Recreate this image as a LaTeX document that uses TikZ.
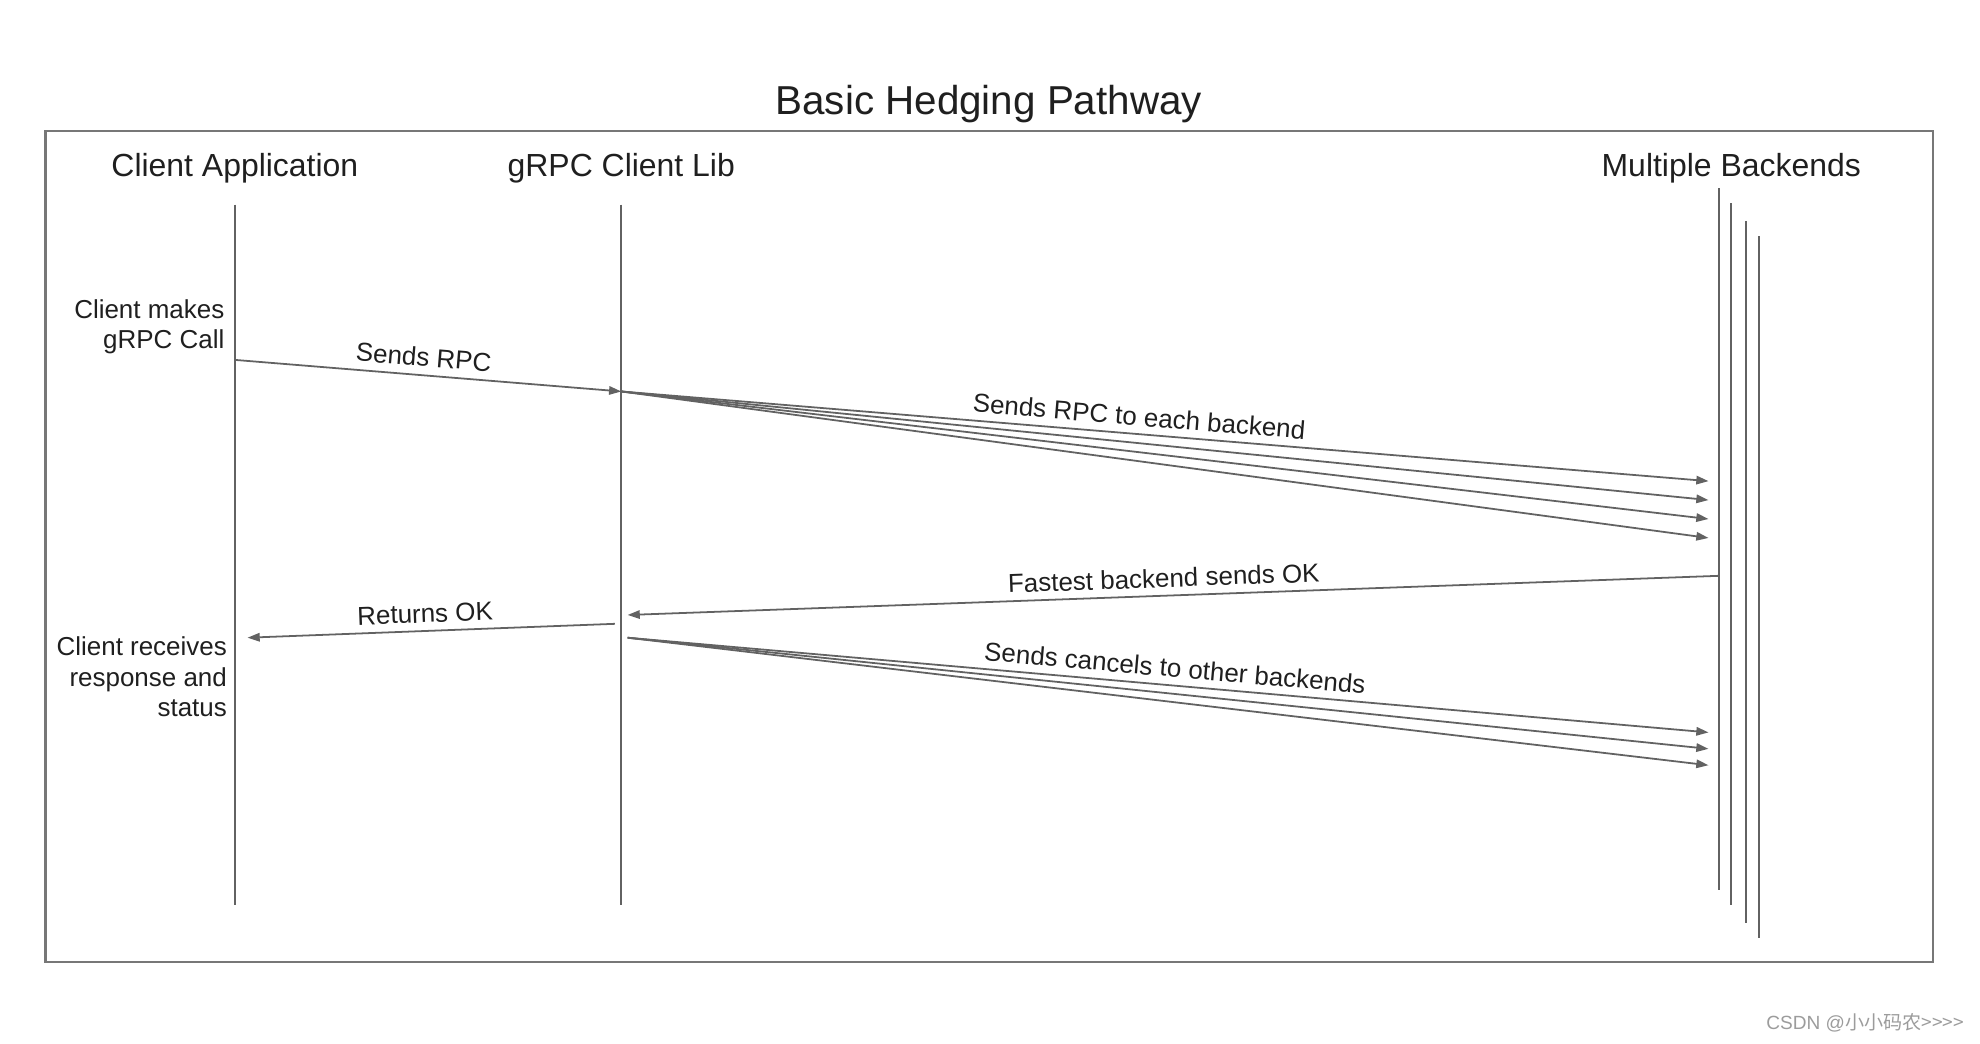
\documentclass[tikz,border=0pt]{standalone}
\usepackage{fontspec}
\setmainfont{Liberation Sans}
\newfontfamily\cjk{Noto Sans CJK SC}
\usepackage{xcolor}
\usetikzlibrary{arrows.meta,positioning}
\definecolor{ink}{HTML}{1F1F1F}
\definecolor{wire}{HTML}{626262}
\definecolor{rim}{HTML}{777777}
\definecolor{wmark}{HTML}{9C9C9C}
\tikzset{
  box/.style={draw=rim, line width=1pt},
  life/.style={draw=wire, line width=0.9pt},
  msg/.style={draw=wire, line width=0.8pt, -{Triangle[length=5.5pt,width=3.8pt]}},
  ttl/.style={text=ink, font=\fontsize{18.2}{21}\selectfont, anchor=base, inner sep=0pt},
  head/.style={text=ink, font=\fontsize{14.4}{17}\selectfont, anchor=base, inner sep=0pt},
  lab/.style={text=ink, font=\fontsize{11.7}{13.6}\selectfont, inner sep=0pt},
  note/.style={lab, align=right, anchor=east},
}

\begin{document}
\begin{tikzpicture}[x=0.02cm,y=-0.02cm]
  \useasboundingbox (0,0) rectangle (1568,826);

  % frame and title
  \draw[box] (36,104) rectangle (1531,762);
  \node[ttl] (title) at (783,91) {Basic Hedging Pathway};

  % column heads
  \node[head] (app) at (186,140) {Client Application};
  \node[head] (lib) at (492,140) {gRPC Client Lib};
  \node[head] (be) at (1371,140) {Multiple Backends};

  % lifelines
  \coordinate (appT) at (186,162);
  \coordinate (appB) at (186,717);
  \coordinate (libT) at (492,162);
  \coordinate (libB) at (492,717);
  \draw[life] (appT) -- (appB);
  \draw[life] (libT) -- (libB);
  % backends, four staggered lines
  \foreach \i/\x/\t/\b in {1/1361/149/705, 2/1371/161/717, 3/1383/175/731, 4/1393/187/743} {
    \coordinate (beT\i) at (\x,\t);
    \coordinate (beB\i) at (\x,\b);
    \draw[life] (beT\i) -- (beB\i);
  }

  % notes on the client side
  \node[note] (make) at (178,259) {Client makes\\gRPC Call};
  \node[note] (gets) at (180,536) {Client receives\\response and\\status};

  % call goes out
  \coordinate (call) at (186,285);
  \coordinate (recv) at (492,310);
  \draw[msg] (call) -- node[lab, sloped, above=3.5pt, pos=0.485] {Sends RPC} (recv);

  % hedged copies, one per backend
  \foreach \i/\y in {1/381, 2/396, 3/411, 4/426} {
    \coordinate (hit\i) at (1353,\y);
    \draw[msg] (recv) -- (hit\i);
  }
  \path (recv) -- node[lab, sloped, above=3.5pt, pos=0.475] {Sends RPC to each backend} (hit1);

  % first answer comes back
  \coordinate (okB) at (1361,456);
  \coordinate (okL) at (497,487);
  \draw[msg] (okB) -- (okL);
  \path (okL) -- node[lab, sloped, above=3.5pt, pos=0.492] {Fastest backend sends OK} (okB);

  \coordinate (retS) at (487,494);
  \coordinate (retE) at (196,505);
  \draw[msg] (retS) -- (retE);
  \path (retE) -- node[lab, sloped, above=3.5pt, pos=0.485] {Returns OK} (retS);

  % cancel the rest
  \coordinate (cxl) at (497,505);
  \foreach \i/\y in {1/580, 2/593, 3/606} {
    \coordinate (stop\i) at (1353,\y);
    \draw[msg] (cxl) -- (stop\i);
  }
  \path (cxl) -- node[lab, sloped, above=3.5pt, pos=0.505] {Sends cancels to other backends} (stop1);

  % watermark
  \node[text=wmark, font=\fontsize{8.6}{10}\selectfont, inner sep=0pt] (wm) at (1477,810) {CSDN @{\cjk 小小码农>>>>}};
\end{tikzpicture}
\end{document}
